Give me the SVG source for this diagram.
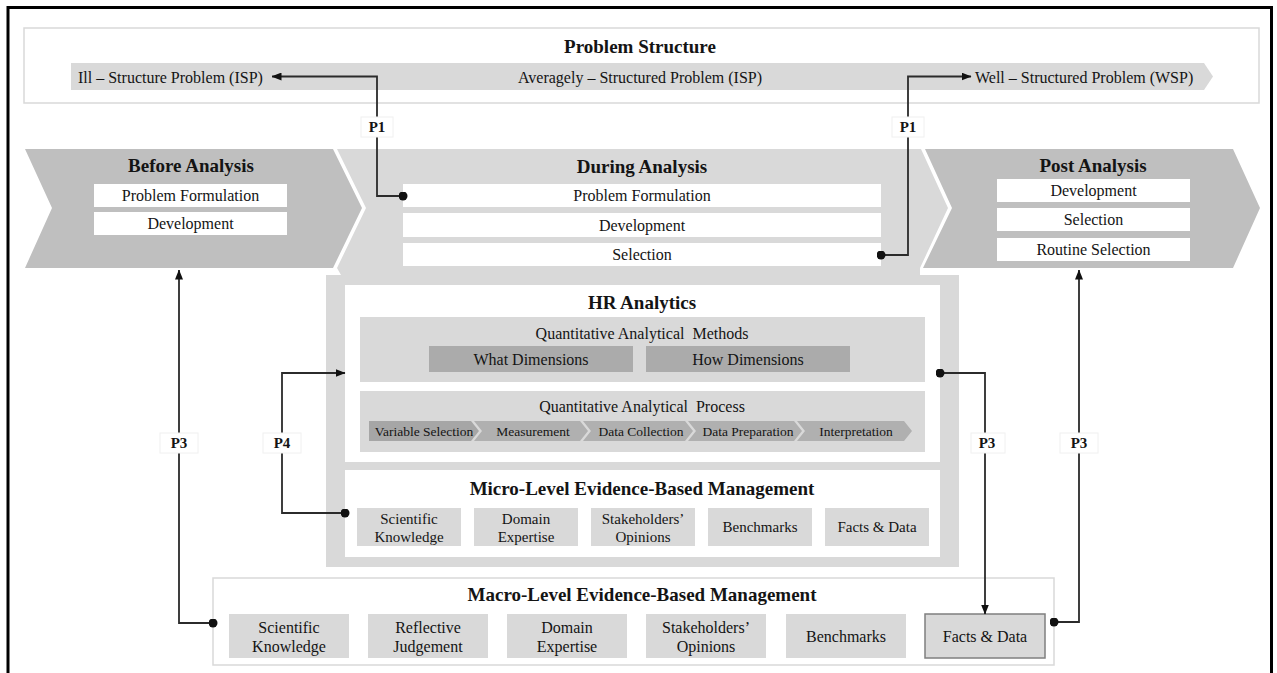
<svg xmlns="http://www.w3.org/2000/svg" width="1277" height="673" viewBox="0 0 1277 673">
  <style>
    text { font-family: "Liberation Serif", "Times New Roman", serif; fill: #141414; text-anchor: middle; }
    .title { font-size: 19px; font-weight: bold; }
    .body { font-size: 16px; }
    .small { font-size: 15px; }
    .step { font-size: 13.5px; }
    .plabel { font-size: 15px; font-weight: bold; }
    .start { text-anchor: start; }
    .pre { white-space: pre; }
    .white { fill: #ffffff; }
    .light { fill: #d9d9d9; }
    .mid { fill: #bfbfbf; }
    .dark { fill: #ababab; }
    .wire { fill: none; stroke: #2b2b2b; stroke-width: 1.8; }
    .tag { fill: #ffffff; stroke: #f0f0f0; stroke-width: 1; }
  </style>
  <defs>
    <marker id="arrow" viewBox="0 0 10 8" refX="9.5" refY="4" markerWidth="10" markerHeight="8" markerUnits="userSpaceOnUse" orient="auto">
      <path d="M0,0 L10,4 L0,8 Z" fill="#111"/>
    </marker>
    <marker id="dot" viewBox="0 0 10 10" refX="5" refY="5" markerWidth="9" markerHeight="9" markerUnits="userSpaceOnUse">
      <circle cx="5" cy="5" r="5" fill="#111"/>
    </marker>
  </defs>

  <!-- outer frame (open at the bottom edge of the canvas) -->
  <rect x="8" y="7.5" width="1263.5" height="700" fill="#ffffff" stroke="#000" stroke-width="3"/>

  <!-- problem structure scale -->
  <g id="problem-structure">
    <rect x="24" y="28" width="1235" height="75" class="white" stroke="#d9d9d9" stroke-width="1.5"/>
    <text x="640" y="52.5" class="title">Problem Structure</text>
    <polygon points="71,63 1204,63 1213,76.5 1204,90 71,90" class="light"/>
    <text x="78" y="82.5" class="body start">Ill – Structure Problem (ISP)</text>
    <text x="640" y="82.5" class="body">Averagely – Structured Problem (ISP)</text>
    <text x="975" y="82.5" class="body start">Well – Structured Problem (WSP)</text>
  </g>

  <!-- during analysis band merged with the HR analytics backdrop -->
  <g id="during-analysis">
    <path d="M337,149 H921 L948,208 L920,268 V275 H959 V567 H326 V275 H341 L337,268 L366,208 Z" class="light"/>
    <text x="642" y="173" class="title">During Analysis</text>
    <rect x="403" y="184" width="478" height="23" class="white"/>
    <text x="642" y="201" class="body">Problem Formulation</text>
    <rect x="403" y="213" width="478" height="24" class="white"/>
    <text x="642" y="230.5" class="body">Development</text>
    <rect x="403" y="243" width="478" height="23" class="white"/>
    <text x="642" y="260" class="body">Selection</text>
  </g>

  <g id="before-analysis">
    <polygon points="25,149 333,149 362,208 333,268 25,268 52,208" class="mid"/>
    <text x="191" y="172" class="title">Before Analysis</text>
    <rect x="94" y="184" width="193" height="23" class="white"/>
    <text x="190.5" y="201" class="body">Problem Formulation</text>
    <rect x="94" y="212" width="193" height="23" class="white"/>
    <text x="190.5" y="229" class="body">Development</text>
  </g>

  <g id="post-analysis">
    <polygon points="925,149 1233,149 1260,208 1233,268 923,268 952,208" class="mid"/>
    <text x="1093" y="172" class="title">Post Analysis</text>
    <rect x="997" y="179" width="193" height="23" class="white"/>
    <text x="1093.5" y="196" class="body">Development</text>
    <rect x="997" y="208" width="193" height="23" class="white"/>
    <text x="1093.5" y="225" class="body">Selection</text>
    <rect x="997" y="238" width="193" height="23" class="white"/>
    <text x="1093.5" y="255" class="body">Routine Selection</text>
  </g>

  <g id="hr-analytics">
    <rect x="345" y="285" width="595" height="177" class="white"/>
    <text x="642" y="309" class="title">HR Analytics</text>
    <rect x="360" y="317" width="565" height="65" class="light"/>
    <text x="642" y="338.5" class="body pre">Quantitative Analytical  Methods</text>
    <rect x="429" y="346" width="204" height="26" class="dark"/>
    <text x="531" y="364.5" class="body">What Dimensions</text>
    <rect x="646" y="346" width="204" height="26" class="dark"/>
    <text x="748" y="364.5" class="body">How Dimensions</text>
    <rect x="360" y="391" width="565" height="61" class="light"/>
    <text x="642" y="411.5" class="body pre">Quantitative Analytical  Process</text>
    <polygon points="369,421 471,421 479,431 471,441 369,441" fill="#a6a6a6"/>
    <polygon points="474,421 580,421 588,431 580,441 474,441 482,431" fill="#b0b0b0"/>
    <polygon points="583,421 685,421 693,431 685,441 583,441 591,431" fill="#b0b0b0"/>
    <polygon points="688,421 794,421 802,431 794,441 688,441 696,431" fill="#b0b0b0"/>
    <polygon points="797,421 904,421 912,431 904,441 797,441 805,431" fill="#b0b0b0"/>
    <text x="424" y="435.5" class="step">Variable Selection</text>
    <text x="533" y="435.5" class="step">Measurement</text>
    <text x="641" y="435.5" class="step">Data Collection</text>
    <text x="748" y="435.5" class="step">Data Preparation</text>
    <text x="856" y="435.5" class="step">Interpretation</text>
  </g>

  <g id="micro-ebm">
    <rect x="345" y="470" width="595" height="87" class="white"/>
    <text x="642" y="494.5" class="title">Micro-Level Evidence-Based Management</text>
    <rect x="357" y="508" width="104" height="38" class="light"/>
    <text x="409" y="524" class="small">Scientific</text>
    <text x="409" y="542" class="small">Knowledge</text>
    <rect x="474" y="508" width="104" height="38" class="light"/>
    <text x="526" y="524" class="small">Domain</text>
    <text x="526" y="542" class="small">Expertise</text>
    <rect x="591" y="508" width="104" height="38" class="light"/>
    <text x="643" y="524" class="small">Stakeholders’</text>
    <text x="643" y="542" class="small">Opinions</text>
    <rect x="708" y="508" width="104" height="38" class="light"/>
    <text x="760" y="532" class="small">Benchmarks</text>
    <rect x="825" y="508" width="104" height="38" class="light"/>
    <text x="877" y="532" class="small">Facts &amp; Data</text>
  </g>

  <g id="macro-ebm">
    <rect x="213" y="578" width="841" height="87" class="white" stroke="#d9d9d9" stroke-width="1.5"/>
    <text x="642" y="600.5" class="title">Macro-Level Evidence-Based Management</text>
    <rect x="229" y="614" width="120" height="44" class="light"/>
    <text x="289" y="632.5" class="body">Scientific</text>
    <text x="289" y="651.5" class="body">Knowledge</text>
    <rect x="368" y="614" width="120" height="44" class="light"/>
    <text x="428" y="632.5" class="body">Reflective</text>
    <text x="428" y="651.5" class="body">Judgement</text>
    <rect x="507" y="614" width="120" height="44" class="light"/>
    <text x="567" y="632.5" class="body">Domain</text>
    <text x="567" y="651.5" class="body">Expertise</text>
    <rect x="646" y="614" width="120" height="44" class="light"/>
    <text x="706" y="632.5" class="body">Stakeholders’</text>
    <text x="706" y="651.5" class="body">Opinions</text>
    <rect x="786" y="614" width="120" height="44" class="light"/>
    <text x="846" y="641.5" class="body">Benchmarks</text>
    <rect x="925" y="614" width="120" height="44" class="light" stroke="#7f7f7f" stroke-width="1.5"/>
    <text x="985" y="641.5" class="body">Facts &amp; Data</text>
  </g>

  <!-- propositions P1–P4 -->
  <g id="connectors">
    <path d="M403,196 H377 V76.5 H272" class="wire" marker-start="url(#dot)" marker-end="url(#arrow)"/>
    <path d="M881,255 H908 V76.5 H971" class="wire" marker-start="url(#dot)" marker-end="url(#arrow)"/>
    <path d="M213,623 H179 V270" class="wire" marker-start="url(#dot)" marker-end="url(#arrow)"/>
    <path d="M345,513 H282 V373 H345" class="wire" marker-start="url(#dot)" marker-end="url(#arrow)"/>
    <path d="M940,373 H985 V614" class="wire" marker-start="url(#dot)" marker-end="url(#arrow)"/>
    <path d="M1054,622 H1079 V270" class="wire" marker-start="url(#dot)" marker-end="url(#arrow)"/>

    <rect x="361" y="117" width="32" height="20" class="tag"/>
    <text x="377" y="132" class="plabel">P1</text>
    <rect x="892" y="117" width="32" height="20" class="tag"/>
    <text x="908" y="132" class="plabel">P1</text>
    <rect x="160" y="433" width="38" height="20" class="tag"/>
    <text x="179" y="448" class="plabel">P3</text>
    <rect x="263" y="433" width="38" height="20" class="tag"/>
    <text x="282" y="448" class="plabel">P4</text>
    <rect x="971" y="433" width="34" height="20" class="tag"/>
    <text x="987" y="448" class="plabel">P3</text>
    <rect x="1060" y="433" width="38" height="20" class="tag"/>
    <text x="1079" y="448" class="plabel">P3</text>
  </g>
</svg>
